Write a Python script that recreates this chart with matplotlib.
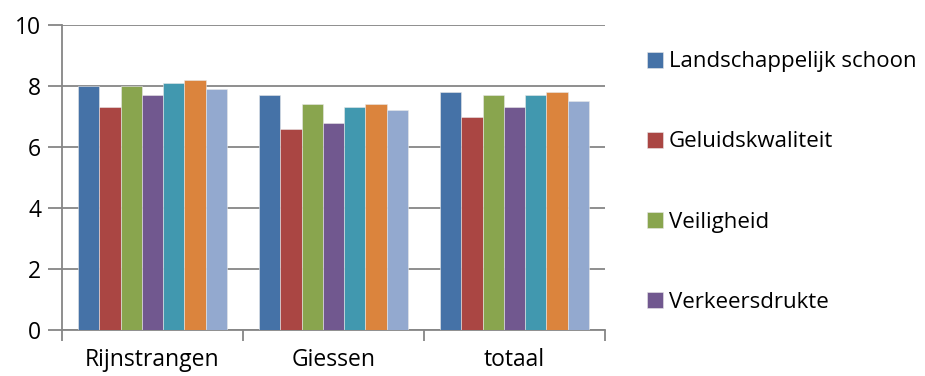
import matplotlib
matplotlib.use("Agg")
import matplotlib.pyplot as plt
import numpy as np

categories = ["Rijnstrangen", "Giessen", "totaal"]
legend_names = ["Landschappelijk schoon", "Geluidskwaliteit", "Veiligheid", "Verkeersdrukte"]

# one list per series, values per category
s1 = [8.0, 7.7, 7.8]
s2 = [7.3, 6.6, 7.0]
s3 = [8.0, 7.4, 7.7]
s4 = [7.7, 6.8, 7.3]
s5 = [8.1, 7.3, 7.7]
s6 = [8.2, 7.4, 7.8]
s7 = [7.9, 7.2, 7.5]
series = [s1, s2, s3, s4, s5, s6, s7]

colors = ["#4572A7", "#AA4643", "#89A54E", "#71588F", "#4198AF", "#DB843D", "#93A9CF"]
grid_col = "#868686"

plt.rcParams['font.family'] = ['Open Sans', 'DejaVu Sans']
fs = 16.5

fig = plt.figure(figsize=(9.25, 3.76), dpi=100)
ax = fig.add_axes([0.067, 0.1223, 0.587, 0.8112])

n = len(series)
bw = 1.0 / (n + 1.5)
x = np.arange(len(categories))
handles = []
for i, vals in enumerate(series):
    pos = x - 0.5 + 0.75 * bw + bw * (i + 0.5)
    b = ax.bar(pos, vals, width=bw, color=colors[i], edgecolor="#E8E8E8",
               linewidth=0.4, zorder=3)
    handles.append(b)

ax.set_xlim(-0.5, len(categories) - 0.5)
ax.set_ylim(0, 10)
ax.set_yticks([0, 2, 4, 6, 8, 10])
ax.yaxis.grid(True, color=grid_col, linewidth=1.3, zorder=0)
ax.set_axisbelow(True)

ax.set_xticks(x)
ax.set_xticklabels(categories, fontsize=fs)
ax.set_xticks(np.arange(len(categories) + 1) - 0.5, minor=True)
ax.tick_params(axis="x", which="major", length=0, pad=13)
ax.tick_params(axis="x", which="minor", length=8, width=1.3, color=grid_col)
ax.tick_params(axis="y", length=10, width=1.3, color=grid_col, labelsize=fs, pad=5)

for side in ["top", "right"]:
    ax.spines[side].set_visible(False)
for side in ["left", "bottom"]:
    ax.spines[side].set_color(grid_col)
    ax.spines[side].set_linewidth(1.3)

leg = fig.legend(handles[:4], legend_names, loc="upper left",
                 bbox_to_anchor=(0.69, 0.887), frameon=False, fontsize=16,
                 handlelength=0.72, handleheight=0.72, handletextpad=0.25,
                 labelspacing=2.66, borderaxespad=0)

fig.savefig("out.png", dpi=100)
